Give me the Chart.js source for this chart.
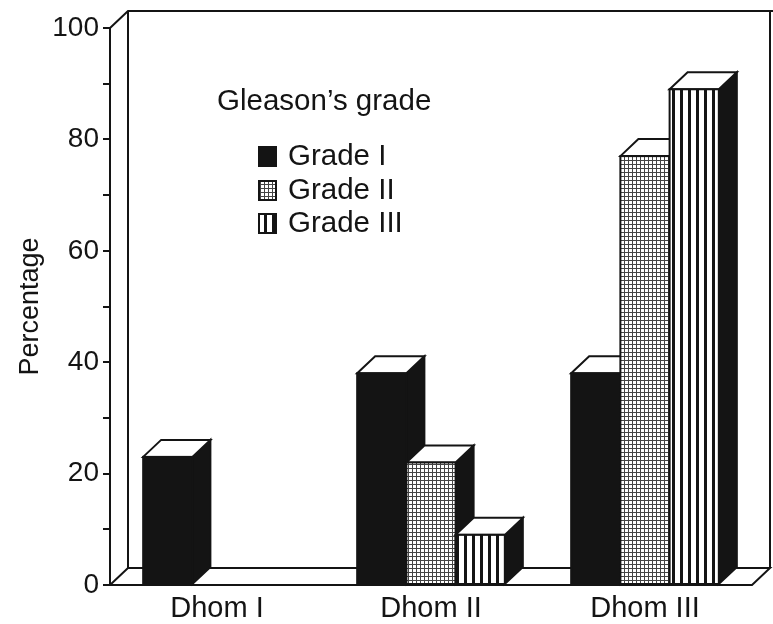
<!DOCTYPE html>
<html><head><meta charset="utf-8">
<script src="https://cdn.jsdelivr.net/npm/chart.js@4.4.1/dist/chart.umd.min.js"></script>
<style>html,body{margin:0;padding:0;background:#fff;} #wrap{width:773px;height:624px;position:relative;}</style>
</head><body><div id="wrap"><canvas id="c" width="773" height="624"></canvas></div>
<script>
const categories = ['Dhom I', 'Dhom II', 'Dhom III'];
const seriesNames = ['Grade I', 'Grade II', 'Grade III'];
const gradeI = [23, 38, 38];
const gradeII = [0, 22, 77];
const gradeIII = [0, 9, 89];
const yLabelValues = [0, 20, 40, 60, 80, 100];
const legendTitle = 'Gleason\u2019s grade';
const yTitle = 'Percentage';

const INK = '#141414';
const FONT = "'Liberation Sans', Arial, Helvetica, sans-serif";
const DX = 18, DY = -17;

function makeGrid() {
  const c = document.createElement('canvas'); c.width = 4; c.height = 4;
  const g = c.getContext('2d');
  g.fillStyle = '#fff'; g.fillRect(0, 0, 4, 4);
  g.fillStyle = '#444'; g.fillRect(0, 0, 4, 1); g.fillRect(0, 0, 1, 4);
  return g.createPattern(c, 'repeat');
}
function makeStripes() {
  const c = document.createElement('canvas'); c.width = 8; c.height = 4;
  const g = c.getContext('2d');
  g.fillStyle = '#fff'; g.fillRect(0, 0, 8, 4);
  g.fillStyle = INK; g.fillRect(0, 0, 3, 4);
  return g.createPattern(c, 'repeat');
}
const fills = [INK, makeGrid(), makeStripes()];
const seriesData = [gradeI, gradeII, gradeIII];

function line(ctx, pts) {
  ctx.beginPath(); ctx.moveTo(pts[0][0], pts[0][1]);
  for (let i = 1; i < pts.length; i++) ctx.lineTo(pts[i][0], pts[i][1]);
  ctx.stroke();
}

const box3d = {
  id: 'box3d',
  beforeDatasetsDraw(chart) {
    const ctx = chart.ctx, ca = chart.chartArea, ys = chart.scales.y;
    const y0 = ys.getPixelForValue(0), y1 = ys.getPixelForValue(100);
    const L = ca.left, R = ca.right;
    ctx.save();
    ctx.strokeStyle = INK; ctx.lineWidth = 2; ctx.lineJoin = 'miter';
    line(ctx, [[L, y1], [L + DX, y1 + DY], [chart.width, y1 + DY]]);
    line(ctx, [[L + DX, y1 + DY], [L + DX, y0 + DY]]);
    line(ctx, [[R + DX, y1 + DY], [R + DX, y0 + DY]]);
    line(ctx, [[L, y0], [L + DX, y0 + DY], [R + DX, y0 + DY], [R, y0], [L, y0]]);
    ctx.restore();
  },
  afterDatasetsDraw(chart) {
    const ctx = chart.ctx;
    ctx.save();
    ctx.strokeStyle = INK; ctx.lineWidth = 2; ctx.lineJoin = 'miter';
    const n = chart.data.labels.length;
    for (let i = 0; i < n; i++) {
      chart.data.datasets.forEach((ds, d) => {
        if (!(ds.data[i] > 0)) return;
        const el = chart.getDatasetMeta(d).data[i];
        const p = el.getProps(['x', 'y', 'base', 'width'], true);
        const l = p.x - p.width / 2, r = p.x + p.width / 2, t = p.y, b = p.base;
        ctx.beginPath();
        ctx.moveTo(r, t); ctx.lineTo(r + DX, t + DY); ctx.lineTo(r + DX, b + DY); ctx.lineTo(r, b); ctx.closePath();
        ctx.fillStyle = INK; ctx.fill(); ctx.stroke();
        ctx.beginPath();
        ctx.moveTo(l, t); ctx.lineTo(l + DX, t + DY); ctx.lineTo(r + DX, t + DY); ctx.lineTo(r, t); ctx.closePath();
        ctx.fillStyle = '#fff'; ctx.fill(); ctx.stroke();
        ctx.fillStyle = ds.backgroundColor;
        ctx.fillRect(l, t, r - l, b - t);
        ctx.strokeRect(l, t, r - l, b - t);
      });
    }
    ctx.restore();
  },
  afterDraw(chart) {
    const ctx = chart.ctx;
    ctx.save();
    ctx.fillStyle = INK; ctx.textBaseline = 'middle'; ctx.textAlign = 'left';
    ctx.font = '29.5px ' + FONT;
    ctx.fillText(legendTitle, 217, 102);
    const rows = [156, 190, 223];
    chart.data.datasets.forEach((ds, i) => {
      const cy = rows[i];
      ctx.fillStyle = ds.backgroundColor;
      ctx.fillRect(259, cy - 9, 17, 19);
      ctx.strokeStyle = INK; ctx.lineWidth = 2;
      ctx.strokeRect(259, cy - 9, 17, 19);
      ctx.fillStyle = INK;
      ctx.fillText(ds.label, 288, cy + 1);
    });
    ctx.restore();
  }
};

new Chart(document.getElementById('c'), {
  type: 'bar',
  data: {
    labels: categories,
    datasets: seriesNames.map((n, i) => ({
      label: n, data: seriesData[i], backgroundColor: fills[i],
      borderColor: INK, borderWidth: 2, borderSkipped: false,
      categoryPercentage: 0.69, barPercentage: 1.0
    }))
  },
  options: {
    responsive: false, animation: false,
    layout: { padding: { top: 28, right: 21, left: 0, bottom: 0 } },
    plugins: { legend: { display: false }, tooltip: { enabled: false } },
    scales: {
      x: {
        grid: { display: false, drawTicks: false }, border: { display: false },
        ticks: { color: INK, font: { family: FONT, size: 29 }, padding: 7 },
        afterFit(s) { s.height = 39; }
      },
      y: {
        min: 0, max: 100,
        grid: { drawOnChartArea: false, drawTicks: true, tickLength: 7, color: INK, lineWidth: 2 },
        border: { display: true, color: INK, width: 2 },
        ticks: { stepSize: 10, color: INK, padding: 4, font: { family: FONT, size: 28 },
          callback: v => yLabelValues.includes(v) ? String(v) : '' },
        title: { display: true, text: yTitle, color: INK, font: { family: FONT, size: 27 }, padding: { top: 14, bottom: 0 } },
        afterFit(s) { s.width = 110; }
      }
    }
  },
  plugins: [box3d]
});
</script></body></html>
